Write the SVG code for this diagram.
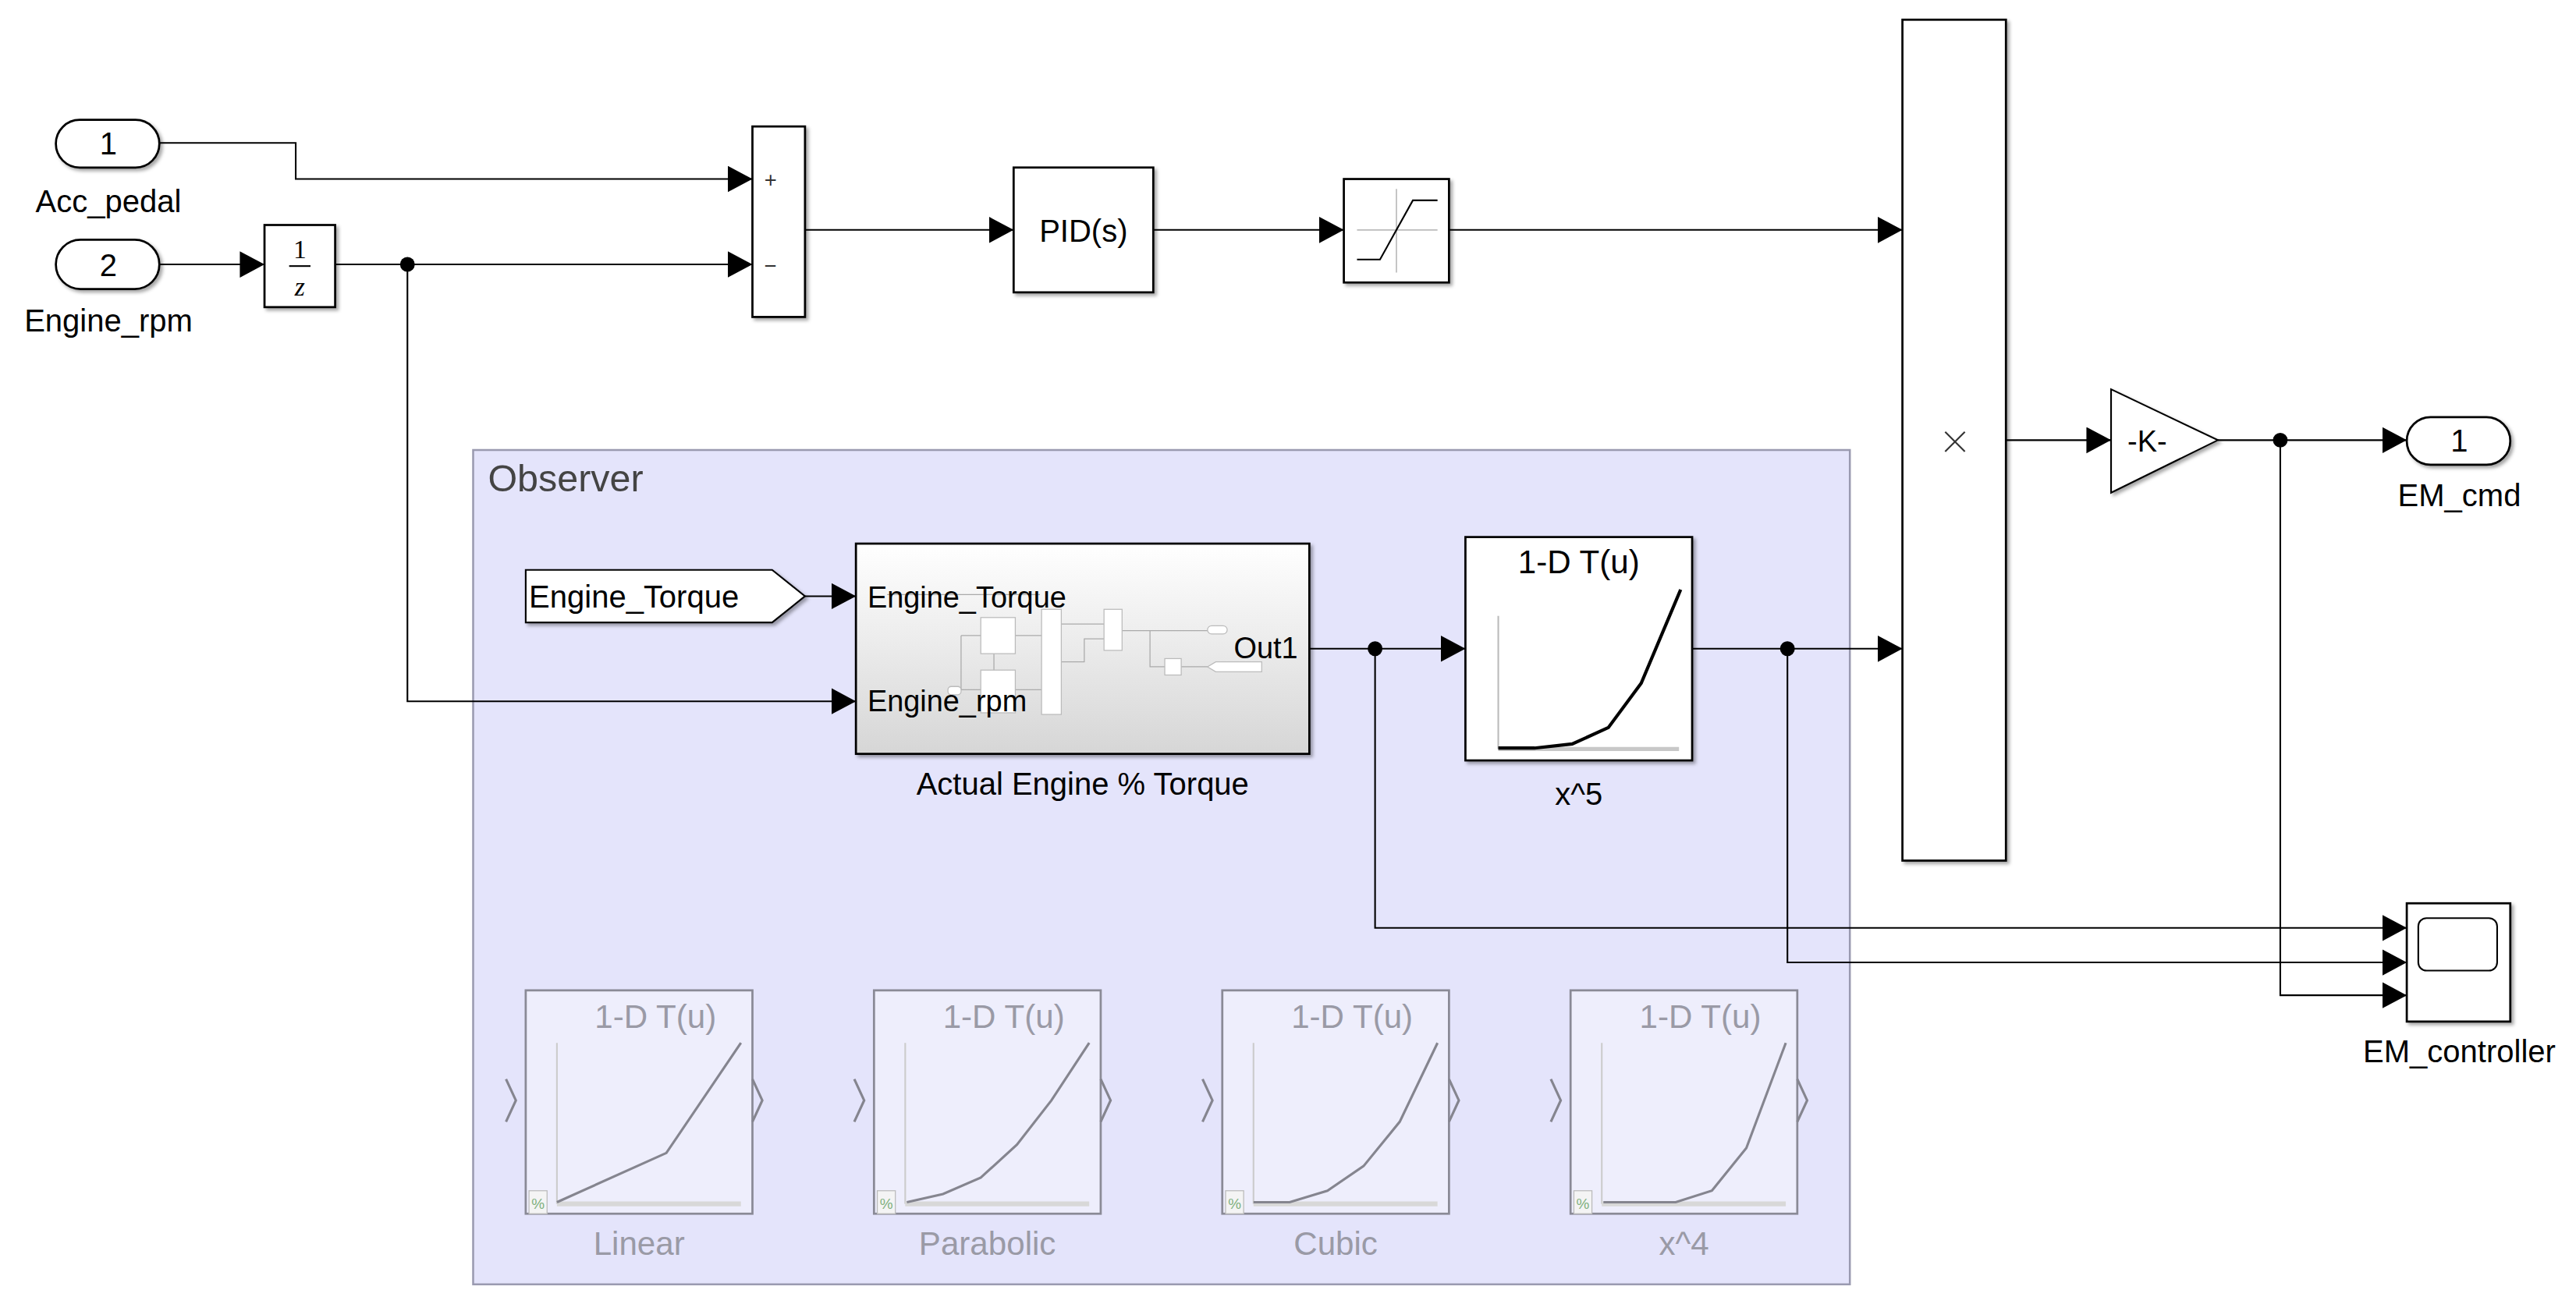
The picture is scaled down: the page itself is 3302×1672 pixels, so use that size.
<svg xmlns="http://www.w3.org/2000/svg" width="3302" height="1672" viewBox="0 0 3302 1672">
<style>
text{font-family:"Liberation Sans",Arial,sans-serif;fill:#000}
.lbl{font-size:19px;text-anchor:middle}
.blk{fill:#fff;stroke:#000;stroke-width:1.3;filter:url(#sh)}
.w{fill:none;stroke:#000;stroke-width:1}
.fade{fill:#eeeefc;stroke:#8a8a96;stroke-width:1.3}
.ft{fill:#9a9aa6;font-size:20px;text-anchor:middle}
.fc{fill:none;stroke:#85858f;stroke-width:1.5}
.mini{fill:#fff;stroke:#bbb;stroke-width:0.6}
.ml{fill:none;stroke:#aaa;stroke-width:0.6}
</style>
<defs>
<marker id="ar" markerUnits="userSpaceOnUse" markerWidth="16" markerHeight="18" refX="15" refY="8" orient="auto"><path d="M0,0 L15,8 L0,16 z" fill="#000"/></marker>
<filter id="sh" x="-10%" y="-10%" width="130%" height="130%"><feDropShadow dx="1.5" dy="1.5" stdDeviation="1" flood-color="#000" flood-opacity="0.35"/></filter>
<linearGradient id="gs" x1="0" y1="0" x2="0" y2="1"><stop offset="0" stop-color="#ffffff"/><stop offset="1" stop-color="#d6d6d6"/></linearGradient>
<g id="fadelut">
<rect class="fade" x="0" y="0" width="138" height="136"/>
<text x="79" y="23" style="fill:#9a9aa6;font-size:20px;text-anchor:middle;font-family:'Liberation Sans',Arial,sans-serif">1-D T(u)</text>
<line x1="19" y1="32" x2="19" y2="130" stroke="#ccc" stroke-width="1"/>
<line x1="19" y1="130" x2="131" y2="130" stroke="#d8d8d8" stroke-width="3"/>
<rect x="2" y="122" width="11" height="14" fill="#f4f4f4" stroke="#bbb" stroke-width="0.6"/>
<text x="7.5" y="133" style="font-size:9px;fill:#7fb07f;text-anchor:middle;font-family:'Liberation Sans',Arial,sans-serif">%</text>
<path d="M-12,54 L-6,67 L-12,80" class="fc" stroke-width="3"/>
<path d="M138,54 L144,67 L138,80" class="fc" stroke-width="3"/>
</g>
</defs>
<rect width="3302" height="1672" fill="#fff"/>
<g transform="scale(2.10587)">
<g id="observer">
<rect x="288" y="274" width="838" height="508" fill="#e4e4fb" stroke="#9a9ab0" stroke-width="1.2"/>
<text x="297" y="299" style="font-size:23px;fill:#444">Observer</text>
</g>
<g id="connectors">
<polyline class="w" points="97,87 180,87 180,109 458,109" marker-end="url(#ar)"/>
<polyline class="w" points="97,161 161,161" marker-end="url(#ar)"/>
<polyline class="w" points="204,161 458,161" marker-end="url(#ar)"/>
<polyline class="w" points="248,161 248,427 521,427" marker-end="url(#ar)"/>
<polyline class="w" points="490,140 617,140" marker-end="url(#ar)"/>
<polyline class="w" points="702,140 818,140" marker-end="url(#ar)"/>
<polyline class="w" points="882,140 1158,140" marker-end="url(#ar)"/>
<polyline class="w" points="490,363 521,363" marker-end="url(#ar)"/>
<polyline class="w" points="797,395 892,395" marker-end="url(#ar)"/>
<polyline class="w" points="837,395 837,565 1465,565" marker-end="url(#ar)"/>
<polyline class="w" points="1030,395 1158,395" marker-end="url(#ar)"/>
<polyline class="w" points="1088,395 1088,586 1465,586" marker-end="url(#ar)"/>
<polyline class="w" points="1221,268 1285,268" marker-end="url(#ar)"/>
<polyline class="w" points="1350,268 1465,268" marker-end="url(#ar)"/>
<polyline class="w" points="1388,268 1388,606 1465,606" marker-end="url(#ar)"/>
<circle cx="248" cy="161" r="4.5"/>
<circle cx="837" cy="395" r="4.5"/>
<circle cx="1088" cy="395" r="4.5"/>
<circle cx="1388" cy="268" r="4.5"/>
</g>
<g id="in1">
<rect class="blk" x="34" y="73" width="63" height="29" rx="14.5"/>
<text class="lbl" x="66" y="94">1</text>
<text class="lbl" x="66" y="129">Acc_pedal</text>
</g>
<g id="in2">
<rect class="blk" x="34" y="146" width="63" height="30" rx="15"/>
<text class="lbl" x="66" y="168">2</text>
<text class="lbl" x="66" y="202">Engine_rpm</text>
</g>
<g id="delay">
<rect class="blk" x="161" y="137" width="43" height="50"/>
<text x="182.5" y="157" style="font-family:'Liberation Serif',serif;font-size:16px;text-anchor:middle">1</text>
<line x1="176" y1="162" x2="189" y2="162" stroke="#000" stroke-width="1"/>
<text x="182.5" y="180" style="font-family:'Liberation Serif',serif;font-size:16px;font-style:italic;text-anchor:middle">z</text>
</g>
<g id="sum">
<rect class="blk" x="458" y="77" width="32" height="116"/>
<text x="469" y="114" style="font-size:13px;text-anchor:middle;fill:#333">+</text>
<text x="469" y="166" style="font-size:13px;text-anchor:middle;fill:#333">−</text>
</g>
<g id="pid">
<rect class="blk" x="617" y="102" width="85" height="76"/>
<text class="lbl" x="659.5" y="147">PID(s)</text>
</g>
<g id="sat">
<rect class="blk" x="818" y="109" width="64" height="63"/>
<line x1="826" y1="140" x2="875" y2="140" stroke="#bbb" stroke-width="0.8"/>
<line x1="850" y1="115" x2="850" y2="166" stroke="#bbb" stroke-width="0.8"/>
<polyline points="826,158 840,158 860,122 875,122" fill="none" stroke="#000" stroke-width="1"/>
</g>
<g id="product">
<rect class="blk" x="1158" y="12" width="63" height="512"/>
<path d="M1184,263 L1196,275 M1196,263 L1184,275" stroke="#333" stroke-width="1"/>
</g>
<g id="gain">
<polygon points="1285,237 1350,268 1285,300" fill="#fff" stroke="#000" stroke-width="1" filter="url(#sh)"/>
<text x="1307" y="275" style="font-size:18px;text-anchor:middle">-K-</text>
</g>
<g id="out1">
<rect class="blk" x="1465" y="254" width="63" height="29" rx="14.5"/>
<text class="lbl" x="1497" y="275">1</text>
<text class="lbl" x="1497" y="308">EM_cmd</text>
</g>
<g id="scope">
<rect class="blk" x="1465" y="550" width="63" height="72"/>
<rect x="1472" y="559" width="48" height="32" rx="5" fill="#fff" stroke="#000" stroke-width="1"/>
<text class="lbl" x="1497" y="647">EM_controller</text>
</g>
<g id="from_tag">
<polygon points="320,347 470,347 490,363 470,379 320,379" fill="#fff" stroke="#000" stroke-width="1" filter="url(#sh)"/>
<text x="322" y="370" style="font-size:19px">Engine_Torque</text>
</g>
<g id="subsystem">
<rect x="521" y="331" width="276" height="128" fill="url(#gs)" stroke="#000" stroke-width="1.3" filter="url(#sh)"/>
<path class="ml" d="M540,362 L633,362 M605,378 L605,430 M585,387 L597,387 M585,387 L585,420 L597,420 M618,387 L634,387 M618,420 L634,420 M646,380 L672,380 M646,403 L660,403 L660,389 L672,389 M683,384 L735,384 M700,384 L700,406 L709,406 M719,406 L735,406"/>
<rect class="mini" x="597" y="376" width="21" height="22"/>
<rect class="mini" x="597" y="408" width="21" height="26"/>
<rect class="mini" x="634" y="371" width="12" height="64"/>
<rect class="mini" x="672" y="371" width="11" height="25"/>
<rect class="mini" x="709" y="401" width="10" height="10"/>
<rect class="mini" x="735" y="381" width="12" height="5" rx="2.5"/>
<polygon class="mini" points="735,406 740,403 768,403 768,409 740,409"/>
<rect class="mini" x="577" y="418" width="8" height="5" rx="2"/>
<text x="528" y="370" style="font-size:18px">Engine_Torque</text>
<text x="528" y="433" style="font-size:18px">Engine_rpm</text>
<text x="790" y="401" style="font-size:18px;text-anchor:end">Out1</text>
<text class="lbl" x="659" y="484">Actual Engine % Torque</text>
</g>
<g id="lut_x5">
<rect class="blk" x="892" y="327" width="138" height="136"/>
<text x="961" y="349" style="font-size:20px;text-anchor:middle">1-D T(u)</text>
<line x1="912" y1="375" x2="912" y2="456" stroke="#bbb" stroke-width="1"/>
<line x1="912" y1="456" x2="1022" y2="456" stroke="#c8c8c8" stroke-width="2.5"/>
<polyline points="912,455.5 934,455.5 957,453 979,443 999,416 1023,359" fill="none" stroke="#000" stroke-width="2"/>
<text class="lbl" x="961" y="490">x^5</text>
</g>
<g id="lut_linear">
<use href="#fadelut" x="320" y="603"/>
<polyline class="fc" points="339,732 405.6,702 451,635"/>
<text class="ft" x="389" y="764">Linear</text>
</g>
<g id="lut_parabolic">
<use href="#fadelut" x="532" y="603"/>
<polyline class="fc" points="552,732 574,727 597,717 619,697 640,670 663,635"/>
<text class="ft" x="601" y="764">Parabolic</text>
</g>
<g id="lut_cubic">
<use href="#fadelut" x="744" y="603"/>
<polyline class="fc" points="763,732 785,732 808,725 830,710 852,683 875,635"/>
<text class="ft" x="813" y="764">Cubic</text>
</g>
<g id="lut_x4">
<use href="#fadelut" x="956" y="603"/>
<polyline class="fc" points="976,732 997,732 1020,732 1042,725 1063,699 1087,635"/>
<text class="ft" x="1025" y="764">x^4</text>
</g>
</g>
</svg>
